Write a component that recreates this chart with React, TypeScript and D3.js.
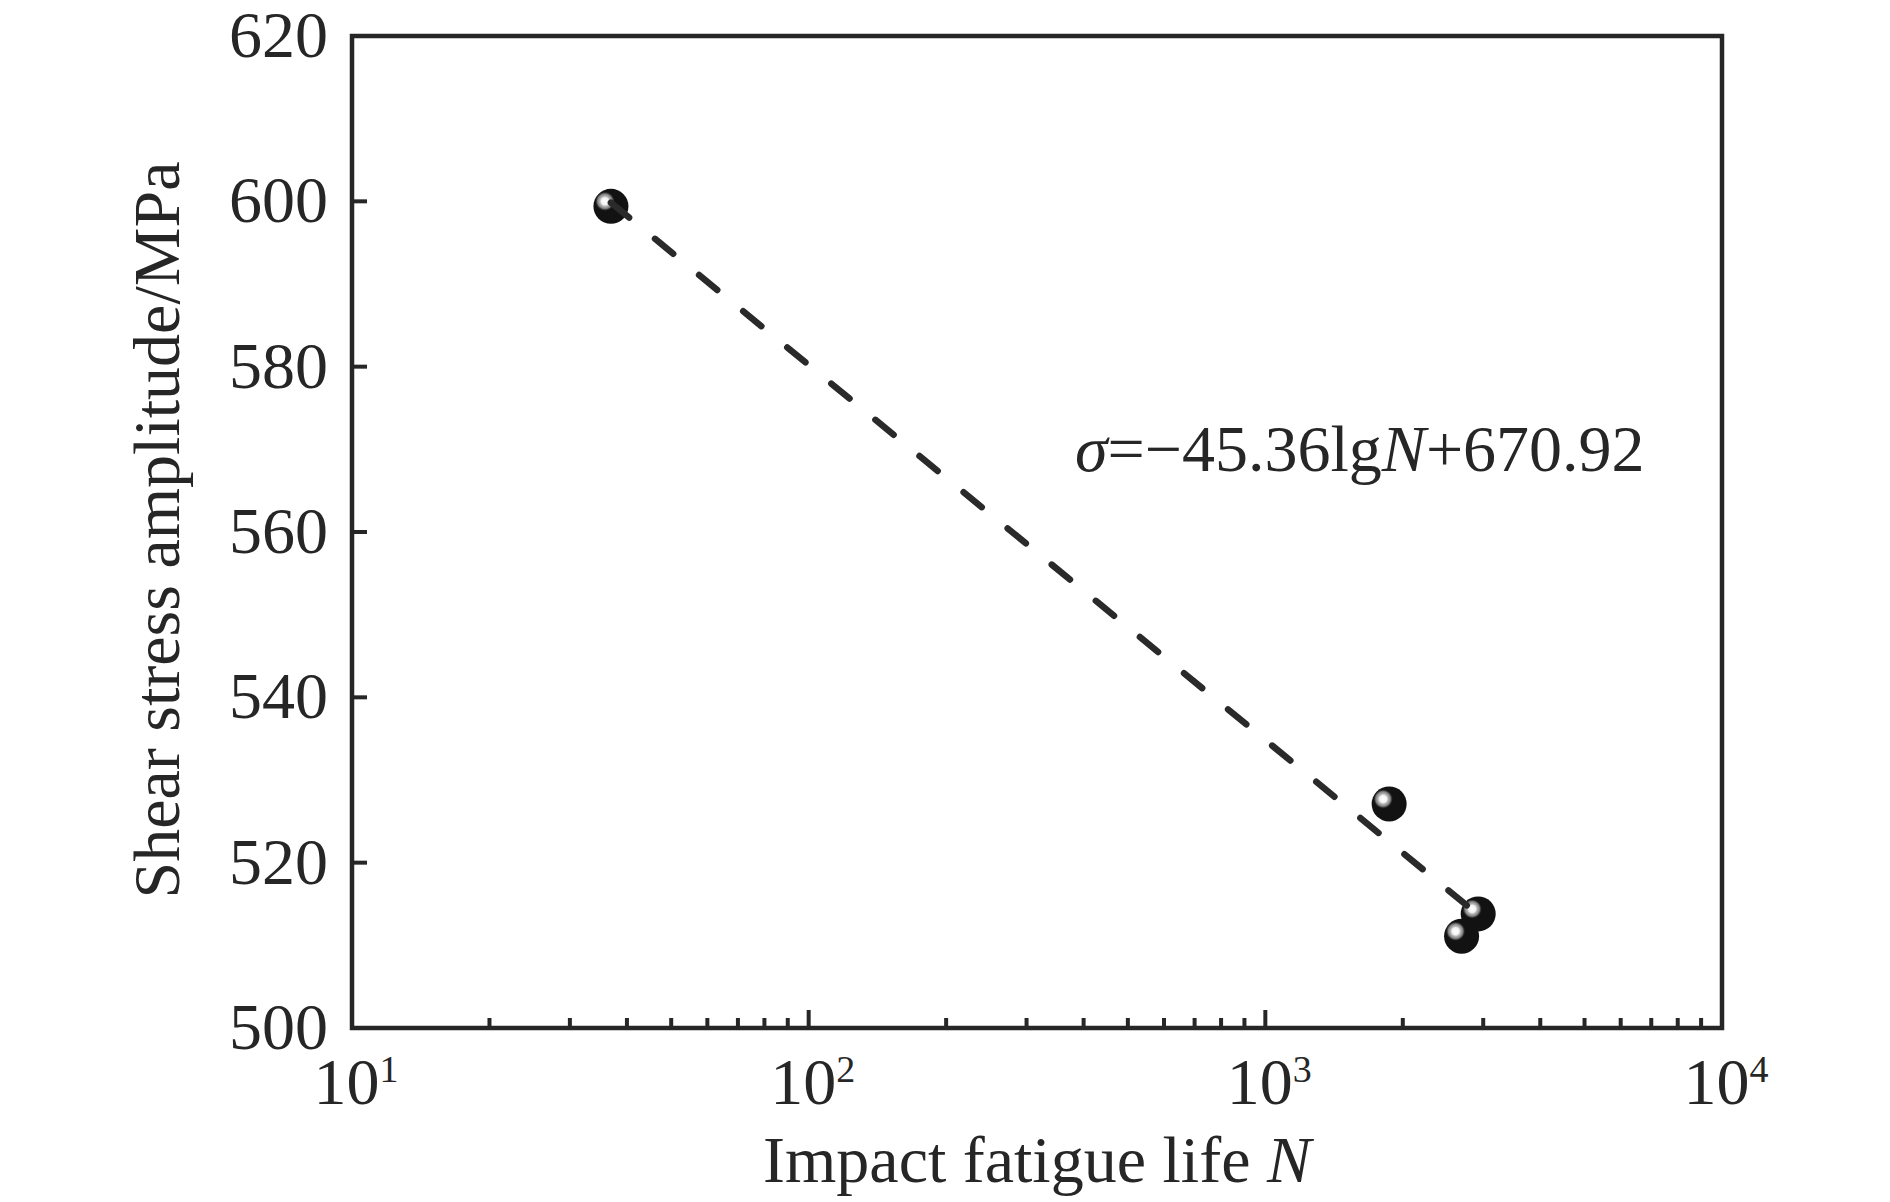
import * as d3 from "d3";

// measured points: impact fatigue life N vs shear stress amplitude (MPa)
const lifeN = [36.9, 1867, 2925, 2690];
const stressMPa = [599.4, 527.1, 513.8, 511.1];

// fitted line sigma = slope * lgN + intercept
const fitSlope = -45.36;
const fitIntercept = 670.92;
const fitRange = [36.9, 2760];

const yTicks = [500, 520, 540, 560, 580, 600, 620];
const xDecades = [1, 2, 3, 4];

const W = 1890;
const H = 1202;
const m = { left: 352, right: 1722, top: 36, bottom: 1028 };
const ink = "#262626";
const font = "'Liberation Serif', 'Times New Roman', serif";

export default function App() {
  const x = d3.scaleLog().domain([10, 10000]).range([m.left, m.right]);
  const y = d3.scaleLinear().domain([500, 620]).range([m.bottom, m.top]);

  const minorTicks: number[] = [];
  for (let e = 1; e < 4; e++) {
    for (let k = 2; k <= 9; k++) minorTicks.push(k * Math.pow(10, e));
  }

  const fitPts: [number, number][] = fitRange.map((n) => [
    x(n),
    y(fitSlope * Math.log10(n) + fitIntercept),
  ]);
  const line = d3.line();
  const len = Math.hypot(fitPts[1][0] - fitPts[0][0], fitPts[1][1] - fitPts[0][1]);
  const dash = 23.5;
  const nDash = 19;
  const gap = (len - dash) / nDash - dash;

  return (
    <svg
      width={W}
      height={H}
      style={{ position: "absolute", left: 0, top: 0, background: "#fff" }}
    >
      <defs>
        <radialGradient id="shine">
          <stop offset="0" stopColor="#ffffff" />
          <stop offset="0.35" stopColor="#f4f4f4" />
          <stop offset="0.5" stopColor="#b8b8b8" />
          <stop offset="0.75" stopColor="#7a7a7a" />
          <stop offset="1" stopColor="#121212" stopOpacity="0" />
        </radialGradient>
      </defs>

      {/* y ticks */}
      {yTicks.map((t) => (
        <g key={t}>
          {t > 500 && t < 620 && (
            <line x1={m.left} x2={m.left + 15} y1={y(t)} y2={y(t)} stroke={ink} strokeWidth={4} />
          )}
          <text
            x={328}
            y={y(t)}
            dy="0.32em"
            textAnchor="end"
            fontFamily={font}
            fontSize={66}
            fill={ink}
          >
            {t}
          </text>
        </g>
      ))}

      {/* x minor ticks */}
      {minorTicks.map((t) => (
        <line key={t} x1={x(t)} x2={x(t)} y1={m.bottom} y2={m.bottom - 10} stroke={ink} strokeWidth={4} />
      ))}
      {/* x major ticks + labels */}
      {xDecades.map((e) => {
        const v = Math.pow(10, e);
        return (
          <g key={e}>
            {e > 1 && e < 4 && (
              <line x1={x(v)} x2={x(v)} y1={m.bottom} y2={m.bottom - 18} stroke={ink} strokeWidth={4} />
            )}
            <text x={x(v) + 4} y={1104} textAnchor="middle" fontFamily={font} fontSize={66} fill={ink}>
              10
              <tspan fontSize={38} dy={-22}>
                {e}
              </tspan>
            </text>
          </g>
        );
      })}

      {/* frame */}
      <rect
        x={m.left}
        y={m.top}
        width={m.right - m.left}
        height={m.bottom - m.top}
        fill="none"
        stroke={ink}
        strokeWidth={4.5}
      />

      {/* markers */}
      {lifeN.map((n, i) => (
        <g key={i} transform={`translate(${x(n)},${y(stressMPa[i])})`}>
          <circle r={17.5} fill="#121212" />
          <circle cx={-6} cy={-5} r={10} fill="url(#shine)" />
        </g>
      ))}

      {/* fit line */}
      <path
        d={line(fitPts) ?? ""}
        fill="none"
        stroke="#2a2a2a"
        strokeWidth={6.5}
        strokeLinecap="round"
        strokeDasharray={`${dash} ${gap}`}
      />

      <text x={1075} y={471} fontFamily={font} fontSize={66} fill={ink}>
        <tspan fontStyle="italic">σ</tspan>=−45.36lg<tspan fontStyle="italic">N</tspan>+670.92
      </text>

      {/* axis titles */}
      <text
        x={(m.left + m.right) / 2}
        y={1182}
        textAnchor="middle"
        fontFamily={font}
        fontSize={66}
        fill={ink}
      >
        Impact fatigue life <tspan fontStyle="italic">N</tspan>
      </text>
      <text
        transform={`translate(179,${(m.top + m.bottom) / 2 - 2}) rotate(-90)`}
        textAnchor="middle"
        fontFamily={font}
        fontSize={66}
        fill={ink}
      >
        Shear stress amplitude/MPa
      </text>
    </svg>
  );
}
